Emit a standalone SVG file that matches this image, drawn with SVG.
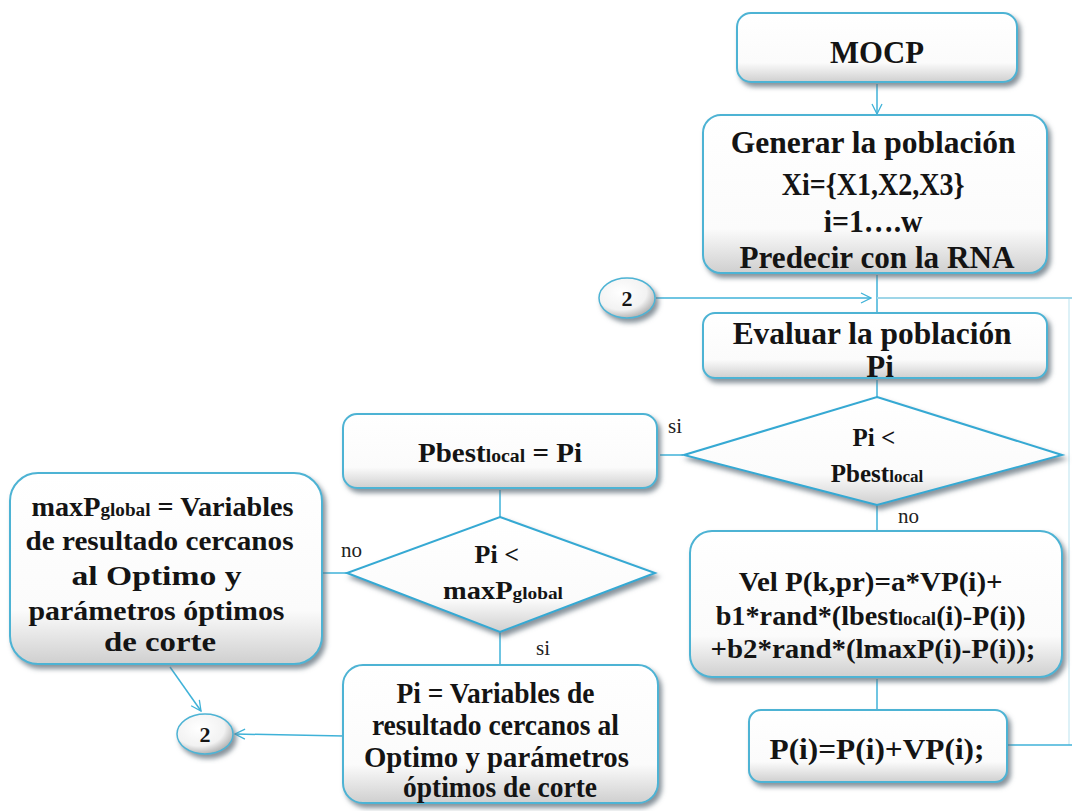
<svg xmlns="http://www.w3.org/2000/svg" width="1072" height="811" viewBox="0 0 1072 811">
  <defs>
    <linearGradient id="boxFill" x1="0" y1="0" x2="0" y2="1">
      <stop offset="0" stop-color="#ffffff"/>
      <stop offset="0.72" stop-color="#fbfbfb"/>
      <stop offset="1" stop-color="#cfcfcf"/>
    </linearGradient>
    <radialGradient id="bubbleFill" cx="0.4" cy="0.35" r="0.75">
      <stop offset="0" stop-color="#ffffff"/>
      <stop offset="0.6" stop-color="#f2f2f2"/>
      <stop offset="1" stop-color="#9a9a9a"/>
    </radialGradient>
    <filter id="shadow" x="-10%" y="-10%" width="125%" height="135%">
      <feDropShadow dx="3" dy="4" stdDeviation="2.5" flood-color="#5f6e79" flood-opacity="0.75"/>
    </filter>
    <marker id="arrow" viewBox="0 0 12 12" refX="11" refY="6" markerWidth="12" markerHeight="12" markerUnits="userSpaceOnUse" orient="auto">
      <path d="M1,1 L11,6 L1,11" fill="none" stroke="#3fb2d8" stroke-width="1.3"/>
    </marker>
  </defs>
  <style>
    .box { fill: url(#boxFill); stroke: #4db3d4; stroke-width: 2; filter: url(#shadow); }
    .dia { fill: url(#boxFill); stroke: #36a9d3; stroke-width: 2; filter: url(#shadow); }
    .bub { fill: url(#bubbleFill); stroke: #4db3d4; stroke-width: 1.5; filter: url(#shadow); }
    .t { font-family: "Liberation Serif", "Times New Roman", serif; font-weight: bold; fill: #141414; text-anchor: middle; }
    .lbl { font-family: "Liberation Serif", "Times New Roman", serif; fill: #222; font-size: 21px; }
    .sub { font-size: 0.68em; }
    .ln { fill: none; stroke: #3fb2d8; stroke-width: 1.5; }
    .lnf { fill: none; stroke: #9fd6e8; stroke-width: 2; }
  </style>

  <rect width="1072" height="811" fill="#ffffff"/>

  <!-- connectors -->
  <g id="connectors">
    <line class="ln" x1="877" y1="84" x2="877" y2="114" marker-end="url(#arrow)"/>
    <line class="ln" x1="877" y1="275" x2="877" y2="312"/>
    <line class="ln" x1="656" y1="298" x2="871" y2="298" marker-end="url(#arrow)"/>
    <line class="lnf" x1="877" y1="298" x2="1072" y2="298"/>
    <line class="lnf" x1="1069" y1="298" x2="1069" y2="745" stroke-opacity="0.35"/>
    <line class="ln" x1="877" y1="380" x2="877" y2="397"/>
    <line class="ln" x1="683" y1="455" x2="660" y2="455" stroke="#9cc6d6" stroke-width="3"/>
    <line class="ln" x1="500" y1="490" x2="500" y2="517" stroke="#7cb6cc"/>
    <line class="ln" x1="347" y1="573" x2="323" y2="573" stroke="#7fa9b8"/>
    <line class="ln" x1="500" y1="632" x2="500" y2="665"/>
    <line class="ln" x1="877" y1="505" x2="877" y2="531" stroke="#7cb6cc"/>
    <line class="ln" x1="877" y1="679" x2="877" y2="710" stroke="#7cb6cc"/>
    <line class="ln" x1="1008" y1="745" x2="1072" y2="745" stroke="#3a8fb0"/>
    <line class="ln" x1="170" y1="667" x2="201" y2="711" marker-end="url(#arrow)"/>
    <line class="ln" x1="344" y1="736" x2="235" y2="734" marker-end="url(#arrow)"/>
    <text class="lbl" x="668" y="433">si</text>
    <text class="lbl" x="898" y="523">no</text>
    <text class="lbl" x="341" y="557">no</text>
    <text class="lbl" x="536" y="655">si</text>
  </g>

  <g id="mocp">
    <rect class="box" x="737" y="13" width="280" height="69" rx="14"/>
    <text class="t" x="877" y="63" font-size="31" textLength="94" lengthAdjust="spacingAndGlyphs">MOCP</text>
  </g>

  <g id="generar">
    <rect class="box" x="703" y="115" width="344" height="158" rx="18"/>
    <text class="t" font-size="31">
      <tspan x="877" y="153" textLength="285" lengthAdjust="spacingAndGlyphs">Generar la población</tspan>
      <tspan x="877" y="195" textLength="183" lengthAdjust="spacingAndGlyphs">Xi={X1,X2,X3}</tspan>
      <tspan x="877" y="232" textLength="99" lengthAdjust="spacingAndGlyphs">i=1….w</tspan>
      <tspan x="877" y="268" textLength="275" lengthAdjust="spacingAndGlyphs">Predecir con la RNA</tspan>
    </text>
  </g>

  <g id="conector-2-sup">
    <ellipse class="bub" cx="627" cy="298" rx="28" ry="20"/>
    <text class="t" x="627" y="306" font-size="22">2</text>
  </g>

  <g id="evaluar">
    <rect class="box" x="703" y="313" width="344" height="65" rx="12"/>
    <text class="t" font-size="31">
      <tspan x="876" y="344" textLength="279" lengthAdjust="spacingAndGlyphs">Evaluar la población</tspan>
      <tspan x="880" y="377">Pi</tspan>
    </text>
  </g>

  <g id="decision-local">
    <polygon class="dia" points="877,397 1062,455 877,505 684,455"/>
    <text class="t" font-size="25">
      <tspan x="877" y="446">Pi &lt;</tspan>
      <tspan x="877" y="482">Pbest<tspan class="sub">local</tspan></tspan>
    </text>
  </g>

  <g id="pbest">
    <rect class="box" x="343" y="414" width="314" height="74" rx="14"/>
    <text class="t" x="500" y="462" font-size="28" textLength="164" lengthAdjust="spacingAndGlyphs">Pbest<tspan class="sub">local</tspan> = Pi</text>
  </g>

  <g id="decision-global">
    <polygon class="dia" points="500,517 655,573 500,632 347,573"/>
    <text class="t" font-size="26">
      <tspan x="500" y="563">Pi &lt;</tspan>
      <tspan x="503" y="599" textLength="120" lengthAdjust="spacingAndGlyphs">maxP<tspan class="sub">global</tspan></tspan>
    </text>
  </g>

  <g id="maxp">
    <rect class="box" x="10" y="473" width="312" height="191" rx="28"/>
    <text class="t" font-size="28">
      <tspan x="166" y="516" textLength="262" lengthAdjust="spacingAndGlyphs">maxP<tspan class="sub">global</tspan> = Variables</tspan>
      <tspan x="163" y="550" textLength="268" lengthAdjust="spacingAndGlyphs">de resultado cercanos</tspan>
      <tspan x="160" y="585" textLength="170" lengthAdjust="spacingAndGlyphs">al Optimo  y</tspan>
      <tspan x="160" y="620" textLength="256" lengthAdjust="spacingAndGlyphs">parámetros óptimos</tspan>
      <tspan x="160" y="651" textLength="112" lengthAdjust="spacingAndGlyphs">de corte</tspan>
    </text>
  </g>

  <g id="conector-2-inf">
    <ellipse class="bub" cx="205" cy="734" rx="28" ry="20"/>
    <text class="t" x="205" y="742" font-size="22">2</text>
  </g>

  <g id="pi-optimo">
    <rect class="box" x="343" y="665" width="315" height="138" rx="20"/>
    <text class="t" font-size="29">
      <tspan x="499" y="703" textLength="198" lengthAdjust="spacingAndGlyphs">Pi = Variables de</tspan>
      <tspan x="499" y="735" textLength="247" lengthAdjust="spacingAndGlyphs">resultado cercanos al</tspan>
      <tspan x="500" y="767" textLength="265" lengthAdjust="spacingAndGlyphs">Optimo  y parámetros</tspan>
      <tspan x="500" y="797" textLength="194" lengthAdjust="spacingAndGlyphs">óptimos de corte</tspan>
    </text>
  </g>

  <g id="velocidad">
    <rect class="box" x="690" y="531" width="372" height="146" rx="22"/>
    <text class="t" font-size="27">
      <tspan x="874" y="591" textLength="264" lengthAdjust="spacingAndGlyphs">Vel P(k,pr)=a*VP(i)+</tspan>
      <tspan x="874" y="625" textLength="310" lengthAdjust="spacingAndGlyphs">b1*rand*(lbest<tspan class="sub">local</tspan>(i)-P(i))</tspan>
      <tspan x="873" y="658" textLength="325" lengthAdjust="spacingAndGlyphs">+b2*rand*(lmaxP(i)-P(i));</tspan>
    </text>
  </g>

  <g id="posicion">
    <rect class="box" x="749" y="710" width="258" height="72" rx="12"/>
    <text class="t" x="877" y="759" font-size="30" textLength="215" lengthAdjust="spacingAndGlyphs">P(i)=P(i)+VP(i);</text>
  </g>
</svg>
